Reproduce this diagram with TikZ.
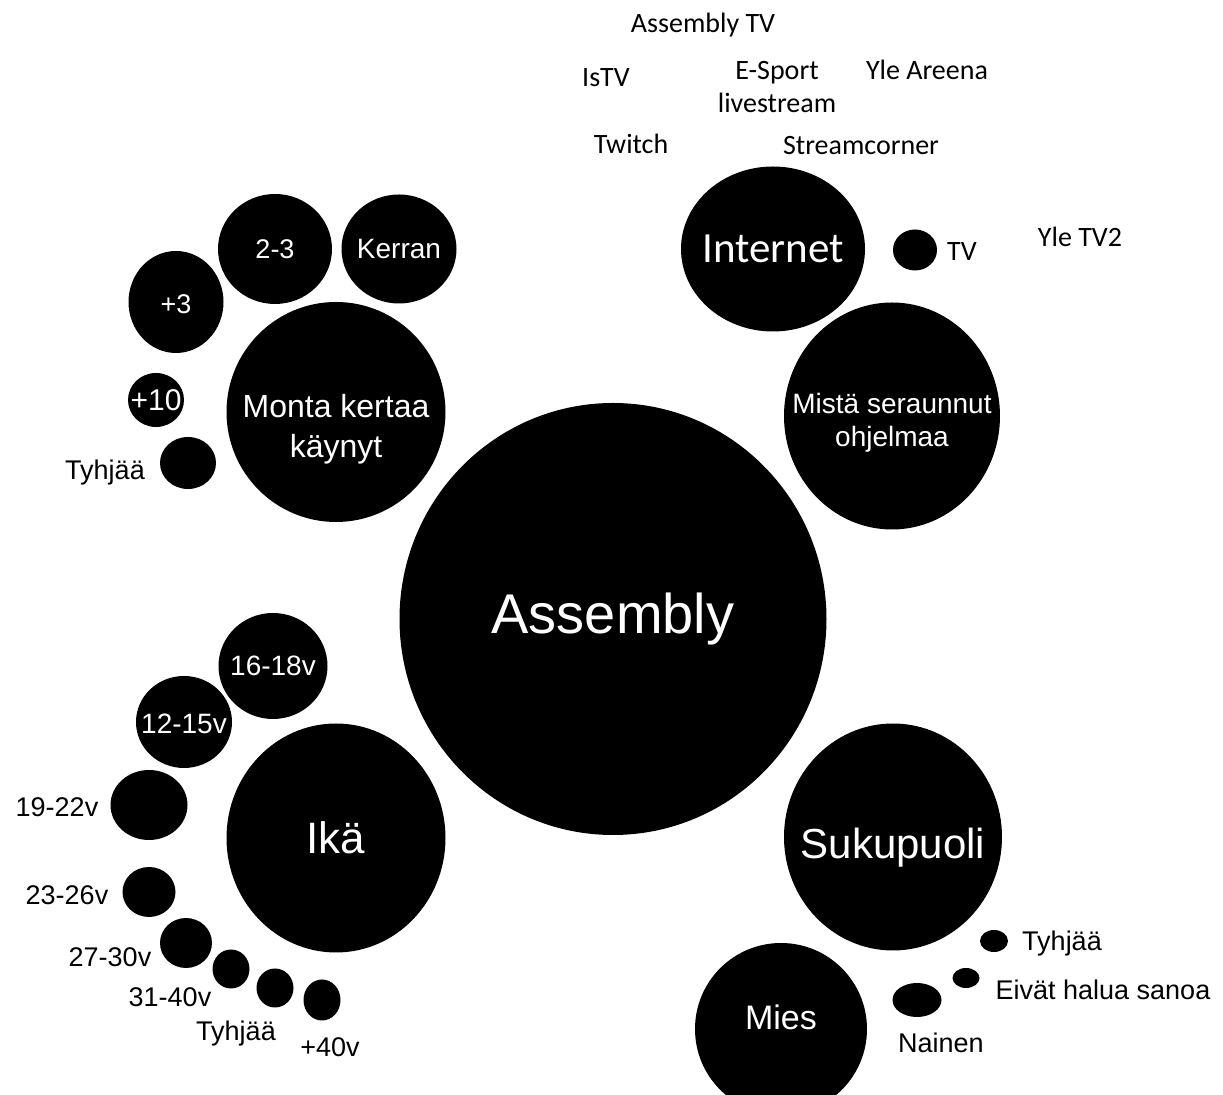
\documentclass[tikz,border=0pt]{standalone}
\usepackage{fontspec}
\setmainfont{Liberation Sans}
\newfontfamily\calibri{Carlito}
\usetikzlibrary{shapes.geometric}

\begin{document}
\begin{tikzpicture}[
  x=0.5pt, y=-0.5pt,
  bub/.style={ellipse, fill=black, inner sep=0pt},
  intxt/.style={text=white, inner sep=0pt, align=center},
  lbl/.style={inner sep=0pt, text height=9.7pt, text depth=0pt, font=\fontsize{13.5}{16}\selectfont},
  src/.style={inner sep=0pt, text height=8.9pt, text depth=0pt, font=\calibri\fontsize{14}{16.5}\selectfont},
  srcml/.style={inner sep=0pt, align=center, font=\calibri\fontsize{14}{16.5}\selectfont}
]
\clip (0,0) rectangle (1223,1095);
\fill[white] (0,0) rectangle (1223,1095);

\node[bub, minimum width=213.5pt, minimum height=216pt, label={[intxt, font=\fontsize{28}{32}\selectfont]center:Assembly}] (assembly) at (613,619) {};

\node[bub, minimum width=109.5pt, minimum height=110pt, label={[intxt, yshift=-8.75pt, font=\fontsize{16}{20}\selectfont]center:Monta kertaa\\käynyt}] (monta) at (336,412) {};
\node[bub, minimum width=57pt, minimum height=55pt, label={[intxt, font=\fontsize{13.5}{16}\selectfont]center:2-3}] (kaksikolme) at (275,249) {};
\node[bub, minimum width=57.5pt, minimum height=54.5pt, label={[intxt, font=\fontsize{14}{16}\selectfont]center:Kerran}] (kerran) at (399,249) {};
\node[bub, minimum width=47.5pt, minimum height=51pt, label={[intxt, yshift=-1pt, font=\fontsize{13.5}{16}\selectfont]center:+3}] (yli3) at (176,302) {};
\node[bub, minimum width=28pt, minimum height=27pt, label={[intxt, font=\fontsize{15}{16}\selectfont]center:+10}] (yli10) at (156,400) {};
\node[bub, minimum width=28pt, minimum height=26pt] (kayntityhja) at (188,463) {};
\node[lbl] (lkayntityhja) at (105,470) {Tyhjää};

\node[bub, minimum width=109.5pt, minimum height=114.5pt, label={[intxt, font=\fontsize{22}{24}\selectfont]center:Ikä}] (ika) at (336,838) {};
\node[bub, minimum width=54.5pt, minimum height=53pt, label={[intxt, font=\fontsize{14}{16}\selectfont]center:16-18v}] (ika1618) at (273,666) {};
\node[bub, minimum width=48pt, minimum height=46pt, label={[intxt, yshift=-1pt, font=\fontsize{14}{16}\selectfont]center:12-15v}] (ika1215) at (184,722) {};
\node[bub, minimum width=38.5pt, minimum height=35pt] (ika1922) at (149,805) {};
\node[bub, minimum width=26.5pt, minimum height=25pt] (ika2326) at (149,892) {};
\node[bub, minimum width=26pt, minimum height=25pt] (ika2730) at (186,943) {};
\node[bub, minimum width=18.5pt, minimum height=19.5pt] (ika3140) at (231,969) {};
\node[bub, minimum width=18.5pt, minimum height=19.5pt] (ikatyhja) at (275,988) {};
\node[bub, minimum width=18.5pt, minimum height=20.5pt] (ika40) at (322,1000) {};
\node[lbl] (l1922) at (57,807) {19-22v};
\node[lbl] (l2326) at (67,895) {23-26v};
\node[lbl] (l2730) at (110,957) {27-30v};
\node[lbl] (l3140) at (170,997) {31-40v};
\node[lbl] (likatyhja) at (236,1031) {Tyhjää};
\node[lbl] (l40) at (330,1047) {+40v};

\node[bub, minimum width=92pt, minimum height=82.5pt, label={[intxt, font=\calibri\fontsize{21.5}{24}\selectfont]center:Internet}] (internet) at (773,249) {};
\node[bub, minimum width=22pt, minimum height=20.5pt] (tv) at (915,250) {};
\node[src] (ltv) at (962,252) {TV};
\node[src] (yletv2) at (1080,238) {Yle TV2};
\node[bub, minimum width=108pt, minimum height=113.5pt, label={[intxt, yshift=-3.5pt, font=\fontsize{14}{16.5}\selectfont]center:Mistä seraunnut\\ohjelmaa}] (mista) at (892,416) {};
\node[src] (assemblytv) at (703,24) {Assembly TV};
\node[src] (istv) at (606,78) {IsTV};
\node[srcml] (esport) at (777,87.5) {E-Sport\\livestream};
\node[src] (yleareena) at (927,71) {Yle Areena};
\node[src] (twitch) at (631,145) {Twitch};
\node[src] (streamcorner) at (861,146) {Streamcorner};

\node[bub, minimum width=109pt, minimum height=113.5pt, label={[intxt, yshift=-5.25pt, font=\fontsize{21}{24}\selectfont]center:Sukupuoli}] (sukupuoli) at (893,837) {};
\node[bub, minimum width=86pt, minimum height=86pt, label={[intxt, yshift=5.75pt, font=\fontsize{17}{20}\selectfont]center:Mies}] (mies) at (781,1029) {};
\node[bub, minimum width=24.5pt, minimum height=17pt] (nainen) at (917,1000) {};
\node[bub, minimum width=13.5pt, minimum height=10pt] (eivat) at (966,978) {};
\node[bub, minimum width=14pt, minimum height=11pt] (sukutyhja) at (994,941) {};
\node[lbl] (lnainen) at (941,1043) {Nainen};
\node[lbl] (leivat) at (1103,990) {Eivät halua sanoa};
\node[lbl] (lsukutyhja) at (1062,941) {Tyhjää};
\end{tikzpicture}
\end{document}
